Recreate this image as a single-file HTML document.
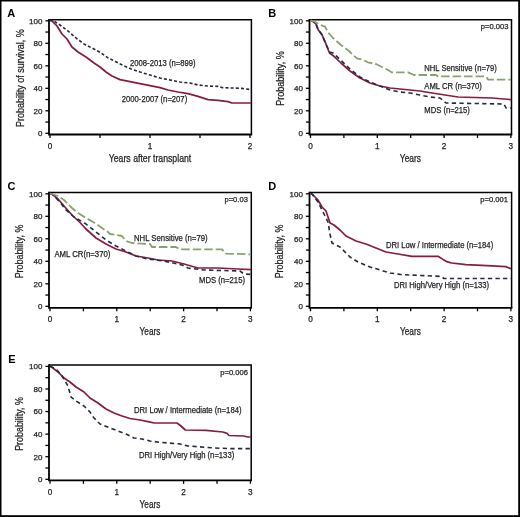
<!DOCTYPE html>
<html><head><meta charset="utf-8"><style>
html,body{margin:0;padding:0;background:#fff;width:520px;height:517px;overflow:hidden}
svg text{font-family:"Liberation Sans", sans-serif}
svg{will-change:transform}
</style></head><body>
<svg width="520" height="517" viewBox="0 0 520 517" style="display:block;font-family:'Liberation Sans',sans-serif">
<rect x="0" y="0" width="520" height="517" fill="#fff"/>
<path d="M49,19.7 H251.4 V134.5" fill="none" stroke="#000" stroke-width="1.5"/>
<path d="M49,18.95 V134.5 H252.15" fill="none" stroke="#000" stroke-width="1.8"/>
<line x1="45.4" y1="20.80" x2="49" y2="20.80" stroke="#000" stroke-width="1.3"/>
<text x="42.4" y="23.7" font-size="8.0" text-anchor="end" font-weight="normal" fill="#1e1e1e" stroke="#1e1e1e" stroke-width="0.25" >100</text>
<line x1="45.4" y1="32.05" x2="49" y2="32.05" stroke="#000" stroke-width="1.3"/>
<line x1="45.4" y1="43.30" x2="49" y2="43.30" stroke="#000" stroke-width="1.3"/>
<text x="42.4" y="46.2" font-size="8.0" text-anchor="end" font-weight="normal" fill="#1e1e1e" stroke="#1e1e1e" stroke-width="0.25" >80</text>
<line x1="45.4" y1="54.55" x2="49" y2="54.55" stroke="#000" stroke-width="1.3"/>
<line x1="45.4" y1="65.80" x2="49" y2="65.80" stroke="#000" stroke-width="1.3"/>
<text x="42.4" y="68.70000000000002" font-size="8.0" text-anchor="end" font-weight="normal" fill="#1e1e1e" stroke="#1e1e1e" stroke-width="0.25" >60</text>
<line x1="45.4" y1="77.05" x2="49" y2="77.05" stroke="#000" stroke-width="1.3"/>
<line x1="45.4" y1="88.30" x2="49" y2="88.30" stroke="#000" stroke-width="1.3"/>
<text x="42.4" y="91.20000000000002" font-size="8.0" text-anchor="end" font-weight="normal" fill="#1e1e1e" stroke="#1e1e1e" stroke-width="0.25" >40</text>
<line x1="45.4" y1="99.55" x2="49" y2="99.55" stroke="#000" stroke-width="1.3"/>
<line x1="45.4" y1="110.80" x2="49" y2="110.80" stroke="#000" stroke-width="1.3"/>
<text x="42.4" y="113.70000000000002" font-size="8.0" text-anchor="end" font-weight="normal" fill="#1e1e1e" stroke="#1e1e1e" stroke-width="0.25" >20</text>
<line x1="45.4" y1="122.05" x2="49" y2="122.05" stroke="#000" stroke-width="1.3"/>
<line x1="45.4" y1="133.30" x2="49" y2="133.30" stroke="#000" stroke-width="1.3"/>
<text x="42.4" y="136.20000000000005" font-size="8.0" text-anchor="end" font-weight="normal" fill="#1e1e1e" stroke="#1e1e1e" stroke-width="0.25" >0</text>
<line x1="50.00" y1="134.5" x2="50.00" y2="137.9" stroke="#000" stroke-width="1.3"/>
<text x="50.00" y="148.8" font-size="8.2" text-anchor="middle" font-weight="normal" fill="#1e1e1e" stroke="#1e1e1e" stroke-width="0.25" >0</text>
<line x1="100.00" y1="134.5" x2="100.00" y2="137.9" stroke="#000" stroke-width="1.3"/>
<line x1="150.00" y1="134.5" x2="150.00" y2="137.9" stroke="#000" stroke-width="1.3"/>
<text x="150.00" y="148.8" font-size="8.2" text-anchor="middle" font-weight="normal" fill="#1e1e1e" stroke="#1e1e1e" stroke-width="0.25" >1</text>
<line x1="200.00" y1="134.5" x2="200.00" y2="137.9" stroke="#000" stroke-width="1.3"/>
<line x1="250.00" y1="134.5" x2="250.00" y2="137.9" stroke="#000" stroke-width="1.3"/>
<text x="250.00" y="148.8" font-size="8.2" text-anchor="middle" font-weight="normal" fill="#1e1e1e" stroke="#1e1e1e" stroke-width="0.25" >2</text>
<text x="7.2" y="17.2" font-size="11" text-anchor="start" font-weight="bold" fill="#000" >A</text>
<text transform="translate(23.7,78.2) rotate(-90)" x="0" y="0" font-size="10.2" text-anchor="middle" fill="#1e1e1e" stroke="#1e1e1e" stroke-width="0.25" textLength="97.6" lengthAdjust="spacingAndGlyphs">Probability of survival, %</text>
<text x="150" y="162.2" font-size="10.4" text-anchor="middle" font-weight="normal" fill="#1e1e1e" stroke="#1e1e1e" stroke-width="0.25" textLength="82.5" lengthAdjust="spacingAndGlyphs" >Years after transplant</text>
<polyline points="49.5,20.3 52,20.8 57,26 62,34 67,39 72,47 78,52 86,57 94,63 100,67 106,72 112,76 120,79.6 130,81.6 140,83.6 150,85.6 160,87.6 168,90 178,92 188,93.6 198,96.4 208,99.6 218,100.4 228,101.6 232,103 251,103" fill="none" stroke="#871b42" stroke-width="1.7" stroke-linejoin="round"/>
<polyline points="49.5,20.3 54,21 60,25 68,31 76,38 84,44 92,48 100,52.3 107.7,57.7 115.4,61.5 123,65.4 130.8,68.8 140,72 150,75 160,78 170,80 180,82 190,83 198,85 208,86 218,86.4 222,87.6 232,88 242,88.4 251,89.6" fill="none" stroke="#222b42" stroke-width="1.6" stroke-linejoin="round" stroke-dasharray="3.1 2.1"/>
<text x="130" y="66.0" font-size="8.8" text-anchor="start" font-weight="normal" fill="#1e1e1e" stroke="#1e1e1e" stroke-width="0.25" textLength="65.6" lengthAdjust="spacingAndGlyphs" >2008-2013 (n=899)</text>
<text x="121.8" y="101.6" font-size="8.8" text-anchor="start" font-weight="normal" fill="#1e1e1e" stroke="#1e1e1e" stroke-width="0.25" textLength="65.4" lengthAdjust="spacingAndGlyphs" >2000-2007 (n=207)</text>
<path d="M309.5,19.7 H511.5 V134.5" fill="none" stroke="#000" stroke-width="1.5"/>
<path d="M309.5,18.95 V134.5 H512.25" fill="none" stroke="#000" stroke-width="1.8"/>
<line x1="305.9" y1="20.80" x2="309.5" y2="20.80" stroke="#000" stroke-width="1.3"/>
<text x="302.9" y="23.7" font-size="8.0" text-anchor="end" font-weight="normal" fill="#1e1e1e" stroke="#1e1e1e" stroke-width="0.25" >100</text>
<line x1="305.9" y1="32.05" x2="309.5" y2="32.05" stroke="#000" stroke-width="1.3"/>
<line x1="305.9" y1="43.30" x2="309.5" y2="43.30" stroke="#000" stroke-width="1.3"/>
<text x="302.9" y="46.2" font-size="8.0" text-anchor="end" font-weight="normal" fill="#1e1e1e" stroke="#1e1e1e" stroke-width="0.25" >80</text>
<line x1="305.9" y1="54.55" x2="309.5" y2="54.55" stroke="#000" stroke-width="1.3"/>
<line x1="305.9" y1="65.80" x2="309.5" y2="65.80" stroke="#000" stroke-width="1.3"/>
<text x="302.9" y="68.70000000000002" font-size="8.0" text-anchor="end" font-weight="normal" fill="#1e1e1e" stroke="#1e1e1e" stroke-width="0.25" >60</text>
<line x1="305.9" y1="77.05" x2="309.5" y2="77.05" stroke="#000" stroke-width="1.3"/>
<line x1="305.9" y1="88.30" x2="309.5" y2="88.30" stroke="#000" stroke-width="1.3"/>
<text x="302.9" y="91.20000000000002" font-size="8.0" text-anchor="end" font-weight="normal" fill="#1e1e1e" stroke="#1e1e1e" stroke-width="0.25" >40</text>
<line x1="305.9" y1="99.55" x2="309.5" y2="99.55" stroke="#000" stroke-width="1.3"/>
<line x1="305.9" y1="110.80" x2="309.5" y2="110.80" stroke="#000" stroke-width="1.3"/>
<text x="302.9" y="113.70000000000002" font-size="8.0" text-anchor="end" font-weight="normal" fill="#1e1e1e" stroke="#1e1e1e" stroke-width="0.25" >20</text>
<line x1="305.9" y1="122.05" x2="309.5" y2="122.05" stroke="#000" stroke-width="1.3"/>
<line x1="305.9" y1="133.30" x2="309.5" y2="133.30" stroke="#000" stroke-width="1.3"/>
<text x="302.9" y="136.20000000000005" font-size="8.0" text-anchor="end" font-weight="normal" fill="#1e1e1e" stroke="#1e1e1e" stroke-width="0.25" >0</text>
<line x1="310.50" y1="134.5" x2="310.50" y2="137.9" stroke="#000" stroke-width="1.3"/>
<text x="310.50" y="148.8" font-size="8.2" text-anchor="middle" font-weight="normal" fill="#1e1e1e" stroke="#1e1e1e" stroke-width="0.25" >0</text>
<line x1="343.90" y1="134.5" x2="343.90" y2="137.9" stroke="#000" stroke-width="1.3"/>
<line x1="377.30" y1="134.5" x2="377.30" y2="137.9" stroke="#000" stroke-width="1.3"/>
<text x="377.30" y="148.8" font-size="8.2" text-anchor="middle" font-weight="normal" fill="#1e1e1e" stroke="#1e1e1e" stroke-width="0.25" >1</text>
<line x1="410.70" y1="134.5" x2="410.70" y2="137.9" stroke="#000" stroke-width="1.3"/>
<line x1="444.10" y1="134.5" x2="444.10" y2="137.9" stroke="#000" stroke-width="1.3"/>
<text x="444.10" y="148.8" font-size="8.2" text-anchor="middle" font-weight="normal" fill="#1e1e1e" stroke="#1e1e1e" stroke-width="0.25" >2</text>
<line x1="477.50" y1="134.5" x2="477.50" y2="137.9" stroke="#000" stroke-width="1.3"/>
<line x1="510.90" y1="134.5" x2="510.90" y2="137.9" stroke="#000" stroke-width="1.3"/>
<text x="510.90" y="148.8" font-size="8.2" text-anchor="middle" font-weight="normal" fill="#1e1e1e" stroke="#1e1e1e" stroke-width="0.25" >3</text>
<text x="268.3" y="17.4" font-size="11" text-anchor="start" font-weight="bold" fill="#000" >B</text>
<text transform="translate(283.7,78.5) rotate(-90)" x="0" y="0" font-size="10.2" text-anchor="middle" fill="#1e1e1e" stroke="#1e1e1e" stroke-width="0.25" textLength="54.5" lengthAdjust="spacingAndGlyphs">Probability, %</text>
<text x="410.4" y="161.8" font-size="10.4" text-anchor="middle" font-weight="normal" fill="#1e1e1e" stroke="#1e1e1e" stroke-width="0.25" textLength="21.2" lengthAdjust="spacingAndGlyphs" >Years</text>
<text x="508.5" y="28.7" font-size="7.6" text-anchor="end" font-weight="normal" fill="#1e1e1e" stroke="#1e1e1e" stroke-width="0.25" >p=0.003</text>
<polyline points="310.5,20.3 312,20.7 316,24 318,29.4 322,34.8 326,44.2 329.5,53 334,56.3 341,63 350,71 360,78 370,83 380,86 390,88 400,89 410,90 420,91 432,93 458,97 492,98 511,99.6" fill="none" stroke="#871b42" stroke-width="1.7" stroke-linejoin="round"/>
<polyline points="310.5,20.3 312,20.7 316,24 318,29.4 322,34.8 326,44.2 329.5,52 333,53 341,60.4 350,69 360,77 370,82 380,86 390,90 400,92 410,93 420,95 430,97 440,98 446,103 504,104 506,108 511,108" fill="none" stroke="#222b42" stroke-width="1.6" stroke-linejoin="round" stroke-dasharray="4.3 3.3"/>
<polyline points="310.5,20.3 314,21.3 319.5,24.7 325,26.7 329,33.5 333,38 337,41.5 341,45 345,48 349,51 353,55 357,58.4 362.5,59.7 368,62.4 376,64 382,67 388,70 392,72.4 408,72.4 414,75 436,75 438,76.4 486,76.4 488,79.6 511,79.6" fill="none" stroke="#86a36c" stroke-width="1.8" stroke-linejoin="round" stroke-dasharray="8.5 3"/>
<text x="424.3" y="70.9" font-size="8.8" text-anchor="start" font-weight="normal" fill="#1e1e1e" stroke="#1e1e1e" stroke-width="0.25" textLength="72.6" lengthAdjust="spacingAndGlyphs" >NHL Sensitive (n=79)</text>
<text x="424.3" y="88.5" font-size="8.8" text-anchor="start" font-weight="normal" fill="#1e1e1e" stroke="#1e1e1e" stroke-width="0.25" textLength="57.6" lengthAdjust="spacingAndGlyphs" >AML CR (n=370)</text>
<text x="424.3" y="112.5" font-size="8.8" text-anchor="start" font-weight="normal" fill="#1e1e1e" stroke="#1e1e1e" stroke-width="0.25" textLength="45.6" lengthAdjust="spacingAndGlyphs" >MDS (n=215)</text>
<path d="M49,192.6 H251.3 V307.9" fill="none" stroke="#000" stroke-width="1.5"/>
<path d="M49,191.85 V307.9 H252.05" fill="none" stroke="#000" stroke-width="1.8"/>
<line x1="45.4" y1="193.80" x2="49" y2="193.80" stroke="#000" stroke-width="1.3"/>
<text x="42.4" y="196.70000000000002" font-size="8.0" text-anchor="end" font-weight="normal" fill="#1e1e1e" stroke="#1e1e1e" stroke-width="0.25" >100</text>
<line x1="45.4" y1="205.05" x2="49" y2="205.05" stroke="#000" stroke-width="1.3"/>
<line x1="45.4" y1="216.30" x2="49" y2="216.30" stroke="#000" stroke-width="1.3"/>
<text x="42.4" y="219.20000000000002" font-size="8.0" text-anchor="end" font-weight="normal" fill="#1e1e1e" stroke="#1e1e1e" stroke-width="0.25" >80</text>
<line x1="45.4" y1="227.55" x2="49" y2="227.55" stroke="#000" stroke-width="1.3"/>
<line x1="45.4" y1="238.80" x2="49" y2="238.80" stroke="#000" stroke-width="1.3"/>
<text x="42.4" y="241.70000000000002" font-size="8.0" text-anchor="end" font-weight="normal" fill="#1e1e1e" stroke="#1e1e1e" stroke-width="0.25" >60</text>
<line x1="45.4" y1="250.05" x2="49" y2="250.05" stroke="#000" stroke-width="1.3"/>
<line x1="45.4" y1="261.30" x2="49" y2="261.30" stroke="#000" stroke-width="1.3"/>
<text x="42.4" y="264.2" font-size="8.0" text-anchor="end" font-weight="normal" fill="#1e1e1e" stroke="#1e1e1e" stroke-width="0.25" >40</text>
<line x1="45.4" y1="272.55" x2="49" y2="272.55" stroke="#000" stroke-width="1.3"/>
<line x1="45.4" y1="283.80" x2="49" y2="283.80" stroke="#000" stroke-width="1.3"/>
<text x="42.4" y="286.7" font-size="8.0" text-anchor="end" font-weight="normal" fill="#1e1e1e" stroke="#1e1e1e" stroke-width="0.25" >20</text>
<line x1="45.4" y1="295.05" x2="49" y2="295.05" stroke="#000" stroke-width="1.3"/>
<line x1="45.4" y1="306.30" x2="49" y2="306.30" stroke="#000" stroke-width="1.3"/>
<text x="42.4" y="309.2" font-size="8.0" text-anchor="end" font-weight="normal" fill="#1e1e1e" stroke="#1e1e1e" stroke-width="0.25" >0</text>
<line x1="50.00" y1="307.9" x2="50.00" y2="311.29999999999995" stroke="#000" stroke-width="1.3"/>
<text x="50.00" y="322.2" font-size="8.2" text-anchor="middle" font-weight="normal" fill="#1e1e1e" stroke="#1e1e1e" stroke-width="0.25" >0</text>
<line x1="83.40" y1="307.9" x2="83.40" y2="311.29999999999995" stroke="#000" stroke-width="1.3"/>
<line x1="116.80" y1="307.9" x2="116.80" y2="311.29999999999995" stroke="#000" stroke-width="1.3"/>
<text x="116.80" y="322.2" font-size="8.2" text-anchor="middle" font-weight="normal" fill="#1e1e1e" stroke="#1e1e1e" stroke-width="0.25" >1</text>
<line x1="150.20" y1="307.9" x2="150.20" y2="311.29999999999995" stroke="#000" stroke-width="1.3"/>
<line x1="183.60" y1="307.9" x2="183.60" y2="311.29999999999995" stroke="#000" stroke-width="1.3"/>
<text x="183.60" y="322.2" font-size="8.2" text-anchor="middle" font-weight="normal" fill="#1e1e1e" stroke="#1e1e1e" stroke-width="0.25" >2</text>
<line x1="217.00" y1="307.9" x2="217.00" y2="311.29999999999995" stroke="#000" stroke-width="1.3"/>
<line x1="250.40" y1="307.9" x2="250.40" y2="311.29999999999995" stroke="#000" stroke-width="1.3"/>
<text x="250.40" y="322.2" font-size="8.2" text-anchor="middle" font-weight="normal" fill="#1e1e1e" stroke="#1e1e1e" stroke-width="0.25" >3</text>
<text x="7.6" y="190.3" font-size="11" text-anchor="start" font-weight="bold" fill="#000" >C</text>
<text transform="translate(23.2,251.5) rotate(-90)" x="0" y="0" font-size="10.2" text-anchor="middle" fill="#1e1e1e" stroke="#1e1e1e" stroke-width="0.25" textLength="53.6" lengthAdjust="spacingAndGlyphs">Probability, %</text>
<text x="150" y="335.1" font-size="10.4" text-anchor="middle" font-weight="normal" fill="#1e1e1e" stroke="#1e1e1e" stroke-width="0.25" textLength="20.8" lengthAdjust="spacingAndGlyphs" >Years</text>
<text x="247.9" y="201.7" font-size="7.6" text-anchor="end" font-weight="normal" fill="#1e1e1e" stroke="#1e1e1e" stroke-width="0.25" >p=0.03</text>
<polyline points="50,193.5 52,194 58,199 64,206 72,215 80,222.5 86,229 96,238 106,244 116,249 126,252 136,256 148,258 158,260 172,261 184,264 198,268 218,268 238,269 251,269.6" fill="none" stroke="#871b42" stroke-width="1.7" stroke-linejoin="round"/>
<polyline points="50,193.5 52,194 60,202 66,210 74,217 86,224 96,232 106,240 116,246 126,251 136,256 148,259 164,261 182,265 188,268 204,270 240,271 244,274 251,274.4" fill="none" stroke="#222b42" stroke-width="1.6" stroke-linejoin="round" stroke-dasharray="4.3 3.3"/>
<polyline points="50,193.5 52,194 58,196 64,200 68,204 72,208 78,213 86,218 94,222.5 102,228 108,232 110,234 122,236 126,241 132,243 150,244 152,247 176,247 180,249.4 222,249.4 226,253.6 251,254.4" fill="none" stroke="#86a36c" stroke-width="1.8" stroke-linejoin="round" stroke-dasharray="8.5 3"/>
<text x="134" y="240.5" font-size="8.8" text-anchor="start" font-weight="normal" fill="#1e1e1e" stroke="#1e1e1e" stroke-width="0.25" textLength="73.6" lengthAdjust="spacingAndGlyphs" >NHL Sensitive (n=79)</text>
<text x="54.4" y="256.5" font-size="8.8" text-anchor="start" font-weight="normal" fill="#1e1e1e" stroke="#1e1e1e" stroke-width="0.25" textLength="56" lengthAdjust="spacingAndGlyphs" >AML CR(n=370)</text>
<text x="199" y="282.5" font-size="8.8" text-anchor="start" font-weight="normal" fill="#1e1e1e" stroke="#1e1e1e" stroke-width="0.25" textLength="46" lengthAdjust="spacingAndGlyphs" >MDS (n=215)</text>
<path d="M309.5,192.6 H511.6 V307.9" fill="none" stroke="#000" stroke-width="1.5"/>
<path d="M309.5,191.85 V307.9 H512.35" fill="none" stroke="#000" stroke-width="1.8"/>
<line x1="305.9" y1="193.80" x2="309.5" y2="193.80" stroke="#000" stroke-width="1.3"/>
<text x="302.9" y="196.70000000000002" font-size="8.0" text-anchor="end" font-weight="normal" fill="#1e1e1e" stroke="#1e1e1e" stroke-width="0.25" >100</text>
<line x1="305.9" y1="205.05" x2="309.5" y2="205.05" stroke="#000" stroke-width="1.3"/>
<line x1="305.9" y1="216.30" x2="309.5" y2="216.30" stroke="#000" stroke-width="1.3"/>
<text x="302.9" y="219.20000000000002" font-size="8.0" text-anchor="end" font-weight="normal" fill="#1e1e1e" stroke="#1e1e1e" stroke-width="0.25" >80</text>
<line x1="305.9" y1="227.55" x2="309.5" y2="227.55" stroke="#000" stroke-width="1.3"/>
<line x1="305.9" y1="238.80" x2="309.5" y2="238.80" stroke="#000" stroke-width="1.3"/>
<text x="302.9" y="241.70000000000002" font-size="8.0" text-anchor="end" font-weight="normal" fill="#1e1e1e" stroke="#1e1e1e" stroke-width="0.25" >60</text>
<line x1="305.9" y1="250.05" x2="309.5" y2="250.05" stroke="#000" stroke-width="1.3"/>
<line x1="305.9" y1="261.30" x2="309.5" y2="261.30" stroke="#000" stroke-width="1.3"/>
<text x="302.9" y="264.2" font-size="8.0" text-anchor="end" font-weight="normal" fill="#1e1e1e" stroke="#1e1e1e" stroke-width="0.25" >40</text>
<line x1="305.9" y1="272.55" x2="309.5" y2="272.55" stroke="#000" stroke-width="1.3"/>
<line x1="305.9" y1="283.80" x2="309.5" y2="283.80" stroke="#000" stroke-width="1.3"/>
<text x="302.9" y="286.7" font-size="8.0" text-anchor="end" font-weight="normal" fill="#1e1e1e" stroke="#1e1e1e" stroke-width="0.25" >20</text>
<line x1="305.9" y1="295.05" x2="309.5" y2="295.05" stroke="#000" stroke-width="1.3"/>
<line x1="305.9" y1="306.30" x2="309.5" y2="306.30" stroke="#000" stroke-width="1.3"/>
<text x="302.9" y="309.2" font-size="8.0" text-anchor="end" font-weight="normal" fill="#1e1e1e" stroke="#1e1e1e" stroke-width="0.25" >0</text>
<line x1="310.50" y1="307.9" x2="310.50" y2="311.29999999999995" stroke="#000" stroke-width="1.3"/>
<text x="310.50" y="322.2" font-size="8.2" text-anchor="middle" font-weight="normal" fill="#1e1e1e" stroke="#1e1e1e" stroke-width="0.25" >0</text>
<line x1="343.90" y1="307.9" x2="343.90" y2="311.29999999999995" stroke="#000" stroke-width="1.3"/>
<line x1="377.30" y1="307.9" x2="377.30" y2="311.29999999999995" stroke="#000" stroke-width="1.3"/>
<text x="377.30" y="322.2" font-size="8.2" text-anchor="middle" font-weight="normal" fill="#1e1e1e" stroke="#1e1e1e" stroke-width="0.25" >1</text>
<line x1="410.70" y1="307.9" x2="410.70" y2="311.29999999999995" stroke="#000" stroke-width="1.3"/>
<line x1="444.10" y1="307.9" x2="444.10" y2="311.29999999999995" stroke="#000" stroke-width="1.3"/>
<text x="444.10" y="322.2" font-size="8.2" text-anchor="middle" font-weight="normal" fill="#1e1e1e" stroke="#1e1e1e" stroke-width="0.25" >2</text>
<line x1="477.50" y1="307.9" x2="477.50" y2="311.29999999999995" stroke="#000" stroke-width="1.3"/>
<line x1="510.90" y1="307.9" x2="510.90" y2="311.29999999999995" stroke="#000" stroke-width="1.3"/>
<text x="510.90" y="322.2" font-size="8.2" text-anchor="middle" font-weight="normal" fill="#1e1e1e" stroke="#1e1e1e" stroke-width="0.25" >3</text>
<text x="268.2" y="190.3" font-size="11" text-anchor="start" font-weight="bold" fill="#000" >D</text>
<text transform="translate(283.4,251.5) rotate(-90)" x="0" y="0" font-size="10.2" text-anchor="middle" fill="#1e1e1e" stroke="#1e1e1e" stroke-width="0.25" textLength="53.6" lengthAdjust="spacingAndGlyphs">Probability, %</text>
<text x="410.4" y="335.1" font-size="10.4" text-anchor="middle" font-weight="normal" fill="#1e1e1e" stroke="#1e1e1e" stroke-width="0.25" textLength="20.8" lengthAdjust="spacingAndGlyphs" >Years</text>
<text x="508" y="201.8" font-size="7.6" text-anchor="end" font-weight="normal" fill="#1e1e1e" stroke="#1e1e1e" stroke-width="0.25" >p=0.001</text>
<polyline points="310.5,193.5 312,194 318,200 322,207 326,211 330,223 334,225 340,230 346,236 356,241 366,244 376,248 386,252 398,254 412,256.3 438,256.3 443,259.4 447.5,261.9 451.6,263 466,264.6 487,265.6 505.6,266.6 511,268.7" fill="none" stroke="#871b42" stroke-width="1.7" stroke-linejoin="round"/>
<polyline points="310.5,193.5 312,194 318,202 324,214 328,222 330,234 332,243 340,247 342,249 350,257 358,262 370,267 380,270 390,273 400,274.4 410,275 441,276.4 444,278.5 511,278.5" fill="none" stroke="#222b42" stroke-width="1.6" stroke-linejoin="round" stroke-dasharray="4.3 3.3"/>
<text x="386" y="247.8" font-size="8.8" text-anchor="start" font-weight="normal" fill="#1e1e1e" stroke="#1e1e1e" stroke-width="0.25" textLength="107.2" lengthAdjust="spacingAndGlyphs" >DRI Low / Intermediate (n=184)</text>
<text x="394" y="287.8" font-size="8.8" text-anchor="start" font-weight="normal" fill="#1e1e1e" stroke="#1e1e1e" stroke-width="0.25" textLength="95" lengthAdjust="spacingAndGlyphs" >DRI High/Very High (n=133)</text>
<path d="M49,365.1 H251.2 V480.4" fill="none" stroke="#000" stroke-width="1.5"/>
<path d="M49,364.35 V480.4 H251.95" fill="none" stroke="#000" stroke-width="1.8"/>
<line x1="45.4" y1="366.40" x2="49" y2="366.40" stroke="#000" stroke-width="1.3"/>
<text x="42.4" y="369.29999999999995" font-size="8.0" text-anchor="end" font-weight="normal" fill="#1e1e1e" stroke="#1e1e1e" stroke-width="0.25" >100</text>
<line x1="45.4" y1="377.69" x2="49" y2="377.69" stroke="#000" stroke-width="1.3"/>
<line x1="45.4" y1="388.98" x2="49" y2="388.98" stroke="#000" stroke-width="1.3"/>
<text x="42.4" y="391.87999999999994" font-size="8.0" text-anchor="end" font-weight="normal" fill="#1e1e1e" stroke="#1e1e1e" stroke-width="0.25" >80</text>
<line x1="45.4" y1="400.27" x2="49" y2="400.27" stroke="#000" stroke-width="1.3"/>
<line x1="45.4" y1="411.56" x2="49" y2="411.56" stroke="#000" stroke-width="1.3"/>
<text x="42.4" y="414.46" font-size="8.0" text-anchor="end" font-weight="normal" fill="#1e1e1e" stroke="#1e1e1e" stroke-width="0.25" >60</text>
<line x1="45.4" y1="422.85" x2="49" y2="422.85" stroke="#000" stroke-width="1.3"/>
<line x1="45.4" y1="434.14" x2="49" y2="434.14" stroke="#000" stroke-width="1.3"/>
<text x="42.4" y="437.03999999999996" font-size="8.0" text-anchor="end" font-weight="normal" fill="#1e1e1e" stroke="#1e1e1e" stroke-width="0.25" >40</text>
<line x1="45.4" y1="445.43" x2="49" y2="445.43" stroke="#000" stroke-width="1.3"/>
<line x1="45.4" y1="456.72" x2="49" y2="456.72" stroke="#000" stroke-width="1.3"/>
<text x="42.4" y="459.62" font-size="8.0" text-anchor="end" font-weight="normal" fill="#1e1e1e" stroke="#1e1e1e" stroke-width="0.25" >20</text>
<line x1="45.4" y1="468.01" x2="49" y2="468.01" stroke="#000" stroke-width="1.3"/>
<line x1="45.4" y1="479.30" x2="49" y2="479.30" stroke="#000" stroke-width="1.3"/>
<text x="42.4" y="482.2" font-size="8.0" text-anchor="end" font-weight="normal" fill="#1e1e1e" stroke="#1e1e1e" stroke-width="0.25" >0</text>
<line x1="50.00" y1="480.4" x2="50.00" y2="483.79999999999995" stroke="#000" stroke-width="1.3"/>
<text x="50.00" y="494.7" font-size="8.2" text-anchor="middle" font-weight="normal" fill="#1e1e1e" stroke="#1e1e1e" stroke-width="0.25" >0</text>
<line x1="83.40" y1="480.4" x2="83.40" y2="483.79999999999995" stroke="#000" stroke-width="1.3"/>
<line x1="116.80" y1="480.4" x2="116.80" y2="483.79999999999995" stroke="#000" stroke-width="1.3"/>
<text x="116.80" y="494.7" font-size="8.2" text-anchor="middle" font-weight="normal" fill="#1e1e1e" stroke="#1e1e1e" stroke-width="0.25" >1</text>
<line x1="150.20" y1="480.4" x2="150.20" y2="483.79999999999995" stroke="#000" stroke-width="1.3"/>
<line x1="183.60" y1="480.4" x2="183.60" y2="483.79999999999995" stroke="#000" stroke-width="1.3"/>
<text x="183.60" y="494.7" font-size="8.2" text-anchor="middle" font-weight="normal" fill="#1e1e1e" stroke="#1e1e1e" stroke-width="0.25" >2</text>
<line x1="217.00" y1="480.4" x2="217.00" y2="483.79999999999995" stroke="#000" stroke-width="1.3"/>
<line x1="250.40" y1="480.4" x2="250.40" y2="483.79999999999995" stroke="#000" stroke-width="1.3"/>
<text x="250.40" y="494.7" font-size="8.2" text-anchor="middle" font-weight="normal" fill="#1e1e1e" stroke="#1e1e1e" stroke-width="0.25" >3</text>
<text x="8.3" y="363.2" font-size="11" text-anchor="start" font-weight="bold" fill="#000" >E</text>
<text transform="translate(23.2,424) rotate(-90)" x="0" y="0" font-size="10.2" text-anchor="middle" fill="#1e1e1e" stroke="#1e1e1e" stroke-width="0.25" textLength="53.6" lengthAdjust="spacingAndGlyphs">Probability, %</text>
<text x="150" y="507.6" font-size="10.4" text-anchor="middle" font-weight="normal" fill="#1e1e1e" stroke="#1e1e1e" stroke-width="0.25" textLength="20.8" lengthAdjust="spacingAndGlyphs" >Years</text>
<text x="247.9" y="375.0" font-size="7.6" text-anchor="end" font-weight="normal" fill="#1e1e1e" stroke="#1e1e1e" stroke-width="0.25" >p=0.006</text>
<polyline points="50,366.4 51,366.6 58,372 64,378 70,382 76,387 84,392 90,398 98,403 106,409 114,413 122,416 130,418.5 140,420 148,421.6 154,423 177,423 181,426 185.4,430 206,430.3 222.8,432 227,433.4 229,435.5 243.5,436 247.7,437 251,437" fill="none" stroke="#871b42" stroke-width="1.7" stroke-linejoin="round"/>
<polyline points="50,366.4 51,366.6 56,369 62,376 68,386 71,397 76,401 84,406 90,412 94,418 100,424 110,428 118,431 126,434 134,438 142,439 150,441 160.5,442.4 179,443.8 187.5,445.9 214.5,448 231,448.6 251,448.6" fill="none" stroke="#222b42" stroke-width="1.6" stroke-linejoin="round" stroke-dasharray="4.3 3.3"/>
<text x="134" y="413.2" font-size="8.8" text-anchor="start" font-weight="normal" fill="#1e1e1e" stroke="#1e1e1e" stroke-width="0.25" textLength="107.5" lengthAdjust="spacingAndGlyphs" >DRI Low / Intermediate (n=184)</text>
<text x="139" y="457.8" font-size="8.8" text-anchor="start" font-weight="normal" fill="#1e1e1e" stroke="#1e1e1e" stroke-width="0.25" textLength="95.2" lengthAdjust="spacingAndGlyphs" >DRI High/Very High (n=133)</text>
<rect x="0" y="0" width="520" height="1.5" fill="#000"/>
<rect x="0" y="0" width="1.5" height="517" fill="#000"/>
<rect x="518.2" y="0" width="1.8" height="517" fill="#000"/>
<rect x="0" y="515.2" width="520" height="1.8" fill="#000"/>
</svg>
</body></html>
